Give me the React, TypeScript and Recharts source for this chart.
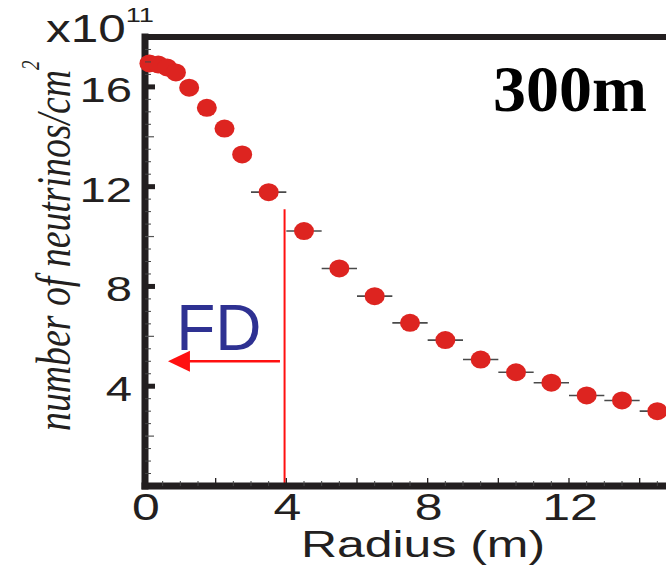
import { ScatterChart, Scatter, XAxis, YAxis, ErrorBar, ReferenceLine, ReferenceDot, Label } from "recharts";

// radius (m) of each bin centre, flux in units of 1e11 neutrinos / cm^2
const radius = [0.125, 0.375, 0.625, 0.875, 1.25, 1.75, 2.25, 2.75, 3.5, 4.5, 5.5, 6.5, 7.5, 8.5, 9.5, 10.5, 11.5, 12.5, 13.5, 14.5];
const flux = [16.94, 16.9, 16.78, 16.58, 15.97, 15.16, 14.33, 13.29, 11.78, 10.22, 8.72, 7.61, 6.54, 5.85, 5.07, 4.56, 4.14, 3.63, 3.43, 3.0];
const binHalfWidth = [0.125, 0.125, 0.125, 0.125, 0.25, 0.25, 0.25, 0.25, 0.5, 0.5, 0.5, 0.5, 0.5, 0.5, 0.5, 0.5, 0.5, 0.5, 0.5, 0.5];

const xTickLabels = [0, 4, 8, 12];
const yTickLabels = [4, 8, 12, 16];
const xTicks = [0, 0.5, 1, 1.5, 2, 2.5, 3, 3.5, 4, 4.5, 5, 5.5, 6, 6.5, 7, 7.5, 8, 8.5, 9, 9.5, 10, 10.5, 11, 11.5, 12, 12.5, 13, 13.5, 14, 14.5];
const yTicks = [0.5, 1, 1.5, 2, 2.5, 3, 3.5, 4, 4.5, 5, 5.5, 6, 6.5, 7, 7.5, 8, 8.5, 9, 9.5, 10, 10.5, 11, 11.5, 12, 12.5, 13, 13.5, 14, 14.5, 15, 15.5, 16, 16.5, 17, 17.5];

const points = radius.map((r, i) => ({ radius: r, flux: flux[i], err: binHalfWidth[i] }));

const ink = "#231f20";
const red = "#dd2420";
const sans = "'Liberation Sans', Arial, sans-serif";
const serif = "'Liberation Serif', 'Times New Roman', serif";

const YTick = (props: any) => {
  const { x, y, payload } = props;
  const v = payload.value;
  if (yTickLabels.includes(v)) {
    return (
      <g>
        <line x1={x} x2={x + 10} y1={y} y2={y} stroke={ink} strokeWidth={5} />
        <text transform={`translate(${x - 13},${y + 15}) scale(1.35,1)`} textAnchor="end" fontFamily={sans} fontSize={35} fill={ink}>
          {v}
        </text>
      </g>
    );
  }
  if (v % 2 === 0) return <line x1={x} x2={x + 9} y1={y} y2={y} stroke="#555" strokeWidth={1.2} />;
  return <line x1={x} x2={x + 6} y1={y} y2={y} stroke="#444" strokeWidth={1} />;
};

const XTick = (props: any) => {
  const { x, y, payload } = props;
  const v = payload.value;
  if (v % 2 === 0) {
    return (
      <g>
        {v > 0 && <line x1={x} x2={x} y1={y} y2={y - 8} stroke={ink} strokeWidth={1.3} />}
        {xTickLabels.includes(v) && (
          <text transform={`translate(${x + 1},${y + 34}) scale(1.35,1)`} textAnchor="middle" fontFamily={sans} fontSize={37} fill={ink}>
            {v}
          </text>
        )}
      </g>
    );
  }
  return <line x1={x} x2={x} y1={y} y2={y - 5} stroke="#444" strokeWidth={1} />;
};

const Dot = (props: any) => <ellipse cx={props.cx} cy={props.cy} rx={10} ry={9} fill={red} />;

const Arrow = (props: any) => {
  const { x1, y1, x2, y2 } = props;
  const dir = x2 < x1 ? 1 : -1;
  return (
    <g>
      <line x1={x1} y1={y1} x2={x2 + dir * 20} y2={y2} stroke="#ff1010" strokeWidth={2.5} />
      <polygon points={`${x2},${y2} ${x2 + dir * 22},${y2 - 10.5} ${x2 + dir * 22},${y2 + 10.5}`} fill="#ff1010" />
    </g>
  );
};

const yTitle = () => (
  <text transform="translate(70,431) scale(1.3,1) rotate(-90)" textAnchor="start" fontFamily={serif} fontStyle="italic" fontSize={37.8} fill={ink}>
    number of neutrinos/cm
    <tspan dy={-24} fontSize={19}>2</tspan>
  </text>
);

const scaleLabel = () => (
  <text transform="translate(46,41.7) scale(1.3,1)" fontFamily={sans} fontSize={38} fill={ink}>
    x10
    <tspan dy={-20} fontSize={21}>11</tspan>
  </text>
);

const xTitle = () => (
  <text transform="translate(423,557) scale(1.35,1)" textAnchor="middle" fontFamily={sans} fontSize={37} fill={ink}>
    Radius (m)
  </text>
);

export default function App() {
  return (
    <div style={{ position: "absolute", left: 0, top: 0, width: 666, height: 566, overflow: "hidden", background: "#fff" }}>
      <ScatterChart width={700} height={566} margin={{ top: 37, right: 25, bottom: 79, left: 144 }}>
        <XAxis
          dataKey="radius"
          type="number"
          domain={[0, 15]}
          ticks={xTicks}
          interval={0}
          height={1}
          tickSize={0}
          tickMargin={0}
          tickLine={false}
          tick={<XTick />}
          axisLine={{ stroke: ink, strokeWidth: 7, strokeLinecap: "square" }}
        >
          <Label content={xTitle} />
        </XAxis>
        <YAxis
          dataKey="flux"
          type="number"
          domain={[0, 18]}
          ticks={yTicks}
          interval={0}
          width={1}
          tickSize={0}
          tickMargin={0}
          tickLine={false}
          tick={<YTick />}
          axisLine={{ stroke: ink, strokeWidth: 7, strokeLinecap: "square" }}
        >
          <Label content={yTitle} />
          <Label content={scaleLabel} />
        </YAxis>
        <ReferenceLine y={18} stroke={ink} strokeWidth={6} />
        <ReferenceLine segment={[{ x: 3.95, y: 0 }, { x: 3.95, y: 11.09 }]} stroke="#ff1010" strokeWidth={2} />
        <ReferenceLine segment={[{ x: 3.82, y: 5.0 }, { x: 0.65, y: 5.0 }]} shape={Arrow} />
        <ReferenceDot
          x={2.09}
          y={5.47}
          r={0}
          shape={(p: any) => (
            <text x={p.cx} y={p.cy} textAnchor="middle" fontFamily={sans} fontSize={64} fill="#2e3192">
              FD
            </text>
          )}
        />
        <ReferenceDot
          x={12.03}
          y={15.03}
          r={0}
          shape={(p: any) => (
            <text x={p.cx} y={p.cy} textAnchor="middle" fontFamily={serif} fontWeight="bold" fontSize={66} fill="#000">
              300m
            </text>
          )}
        />
        <Scatter data={points} dataKey="flux" shape={Dot} isAnimationActive={false}>
          <ErrorBar dataKey="err" direction="x" width={0} stroke="#4a4a4a" strokeWidth={1.6} />
        </Scatter>
      </ScatterChart>
    </div>
  );
}
